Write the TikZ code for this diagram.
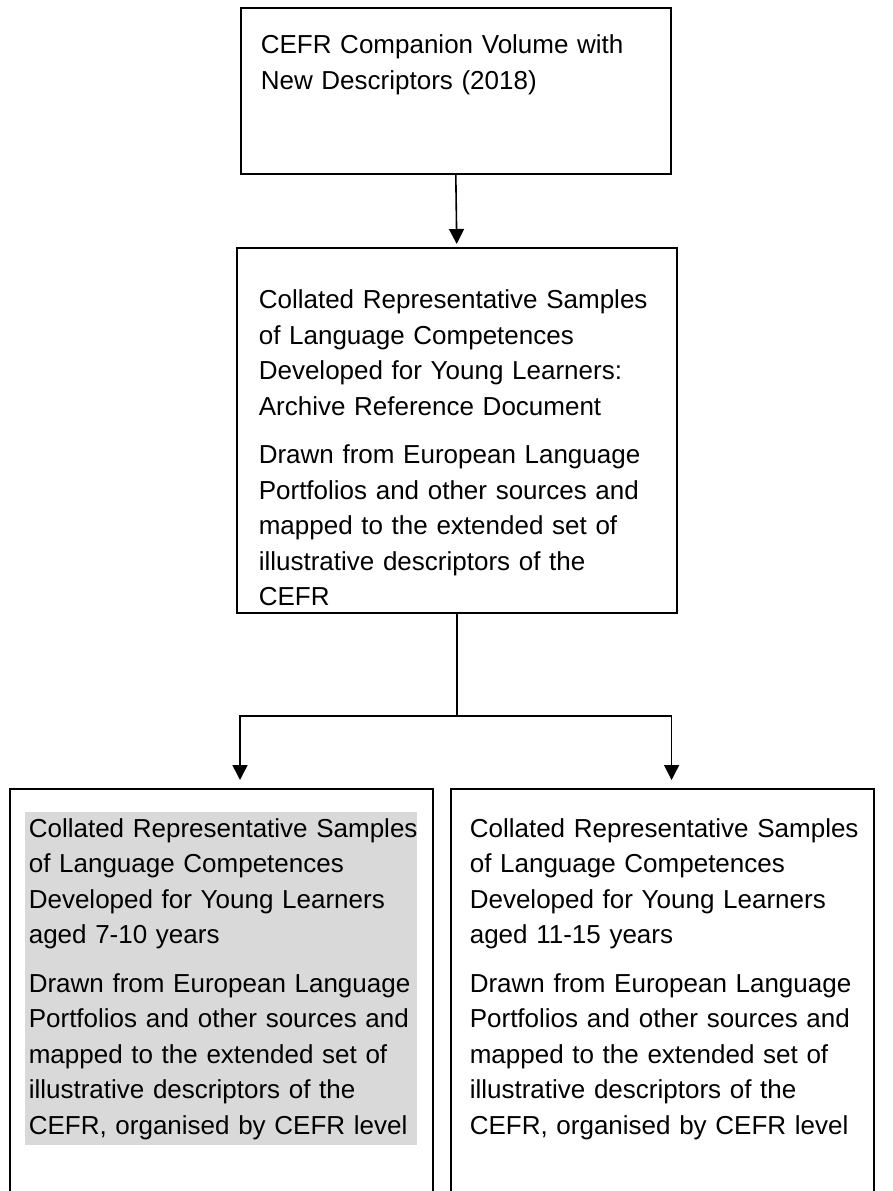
\documentclass[tikz,border=0pt]{standalone}
\usepackage{fontspec}
\setmainfont{Liberation Sans}
\usepackage{xcolor}
\usetikzlibrary{arrows.meta, calc}
\definecolor{cefrgray}{HTML}{D9D9D9}
\newcommand{\cefrfont}{\fontsize{26pt}{35.5pt}\selectfont\hyphenpenalty=10000\relax}

\begin{document}
\begin{tikzpicture}[x=1pt, y=-1pt,
    flowbox/.style={draw, line width=1.6pt, anchor=north west,
      inner xsep=20pt, inner ysep=0pt, align=left, font=\cefrfont},
    flowline/.style={line width=1.6pt},
    flowarrow/.style={line width=1.6pt, shorten >=4pt,
      -{Triangle[width=15pt, length=15pt]}}]
    \useasboundingbox (0,0) rectangle (893,1191);
    % Shading behind the younger learners text
    \fill[cefrgray] (25,812) rectangle (417,1145);
    % Companion volume
    \node[flowbox, text width=390pt] (companion) at (240,7)
      {\rule{0pt}{46pt}CEFR Companion Volume with\\
       New Descriptors (2018)\rule[-84.5pt]{0pt}{84.5pt}};
    % Archive reference document
    \node[flowbox, text width=396pt, inner xsep=22pt] (archive) at (236,247)
      {\rule{0pt}{61pt}Collated Representative Samples\\
       of Language Competences\\
       Developed for Young Learners:\\
       Archive Reference Document\par\vspace{13pt}
       Drawn from European Language\\
       Portfolios and other sources and\\
       mapped to the extended set of\\
       illustrative descriptors of the\\
       CEFR\rule[-7pt]{0pt}{7pt}};
    % Learners aged 7-10
    \node[flowbox, text width=385pt, inner xsep=19pt] (younger) at (9,788)
      {\rule{0pt}{48.5pt}Collated~Representative~Samples\\
       of Language Competences\\
       Developed for Young Learners\\
       aged 7-10 years\par\vspace{13pt}
       Drawn from European Language\\
       Portfolios and other sources and\\
       mapped to the extended set of\\
       illustrative descriptors of the\\
       CEFR, organised by CEFR level\rule[-70pt]{0pt}{70pt}};
    % Learners aged 11-15
    \node[flowbox, text width=385pt, inner xsep=19pt] (older) at (450,788)
      {\rule{0pt}{48.5pt}Collated~Representative~Samples\\
       of Language Competences\\
       Developed for Young Learners\\
       aged 11-15 years\par\vspace{13pt}
       Drawn from European Language\\
       Portfolios and other sources and\\
       mapped to the extended set of\\
       illustrative descriptors of the\\
       CEFR, organised by CEFR level\rule[-70pt]{0pt}{70pt}};
    % Connectors
    \draw[flowarrow, shorten >=3pt] (companion.south) -- (archive.north);
    \coordinate (split) at (archive.south |- 0,716);
    \draw[flowline] (archive.south) -- (split);
    \draw[flowarrow, shorten >=8pt] (split) -| (companion.west |- younger.north);
    \draw[flowarrow, shorten >=8pt] (split) -| (companion.east |- older.north);
  \end{tikzpicture}
\end{document}
